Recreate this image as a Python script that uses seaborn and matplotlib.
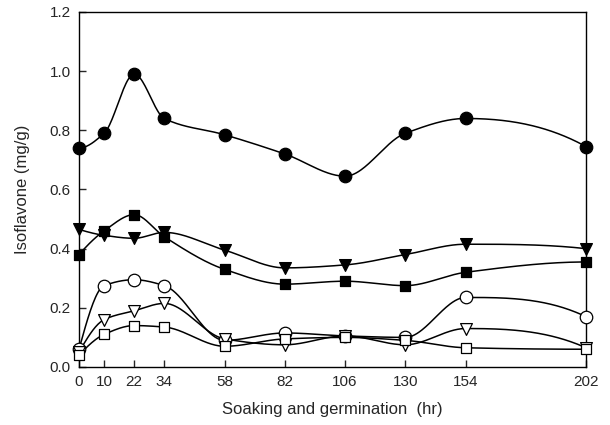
#!/usr/bin/env python
#
# Isoflavone content during soaking and germination

import numpy as np
import pandas as pd
import matplotlib
matplotlib.use("Agg")
import matplotlib.pyplot as plt
import seaborn as sns

hours = [0, 10, 22, 34, 58, 82, 106, 130, 154, 202]

total = [0.74, 0.79, 0.99, 0.84, 0.785, 0.72, 0.645, 0.79, 0.84, 0.745]
tri_filled = [0.465, 0.445, 0.435, 0.455, 0.395, 0.335, 0.345, 0.38, 0.415, 0.40]
sq_filled = [0.38, 0.46, 0.515, 0.44, 0.33, 0.28, 0.29, 0.275, 0.32, 0.355]
circ_open = [0.06, 0.275, 0.295, 0.275, 0.09, 0.115, 0.105, 0.10, 0.235, 0.17]
tri_open = [0.05, 0.16, 0.19, 0.215, 0.095, 0.075, 0.105, 0.075, 0.13, 0.065]
sq_open = [0.04, 0.11, 0.14, 0.135, 0.07, 0.095, 0.10, 0.09, 0.065, 0.06]

yticks = [0.0, 0.2, 0.4, 0.6, 0.8, 1.0, 1.2]


def smooth_curve(x, y, n=400):
    """Monotone cubic (pchip-like) curve through the points, for drawing only."""
    x = np.asarray(x, float)
    y = np.asarray(y, float)
    h = np.diff(x)
    delta = np.diff(y) / h
    k = len(x)
    m = np.zeros(k)
    for i in range(1, k - 1):
        if delta[i - 1] * delta[i] <= 0:
            m[i] = 0.0
        else:
            w1 = 2 * h[i] + h[i - 1]
            w2 = h[i] + 2 * h[i - 1]
            m[i] = (w1 + w2) / (w1 / delta[i - 1] + w2 / delta[i])

    def end_slope(h0, h1, d0, d1):
        d = ((2 * h0 + h1) * d0 - h0 * d1) / (h0 + h1)
        if np.sign(d) != np.sign(d0):
            d = 0.0
        elif np.sign(d0) != np.sign(d1) and abs(d) > abs(3 * d0):
            d = 3 * d0
        return d

    m[0] = end_slope(h[0], h[1], delta[0], delta[1])
    m[-1] = end_slope(h[-1], h[-2], delta[-1], delta[-2])

    xs = np.linspace(x[0], x[-1], n)
    idx = np.clip(np.searchsorted(x, xs) - 1, 0, k - 2)
    t = (xs - x[idx]) / h[idx]
    h00 = 2 * t ** 3 - 3 * t ** 2 + 1
    h10 = t ** 3 - 2 * t ** 2 + t
    h01 = -2 * t ** 3 + 3 * t ** 2
    h11 = t ** 3 - t ** 2
    ys = (h00 * y[idx] + h10 * h[idx] * m[idx]
          + h01 * y[idx + 1] + h11 * h[idx] * m[idx + 1])
    return xs, ys


sns.set_style("ticks")
plt.rcParams['font.family'] = ['Liberation Sans', 'DejaVu Sans']

fig = plt.figure(figsize=(6.1, 4.25), dpi=100)
ax = fig.add_axes([0.1295, 0.1365, 0.8312, 0.8353])

series = [
    (total, 'o', 'black', 9),
    (tri_filled, 'v', 'black', 8.5),
    (sq_filled, 's', 'black', 7.5),
    (circ_open, 'o', 'white', 9),
    (tri_open, 'v', 'white', 8.5),
    (sq_open, 's', 'white', 7.5),
]

for vals, mk, fc, ms in series:
    xs, ys = smooth_curve(hours, vals)
    sns.lineplot(x=xs, y=ys, ax=ax, color='black', lw=1.1, sort=False,
                 estimator=None, zorder=2)
for vals, mk, fc, ms in series:
    df = pd.DataFrame({'hr': hours, 'val': vals})
    sns.scatterplot(data=df, x='hr', y='val', ax=ax, marker=mk,
                    s=ms ** 2, color=fc, edgecolor='black', linewidth=0.9,
                    zorder=3, clip_on=False)

ax.set_xlim(0, 202)
ax.set_ylim(0, 1.2)
ax.set_xticks(hours)
ax.set_xticklabels([str(h) for h in hours])
ax.set_yticks(yticks)
ax.set_yticklabels([f"{t:.1f}" for t in yticks])
ax.tick_params(direction='in', length=5, width=1, labelsize=11, pad=6)
for sp in ax.spines.values():
    sp.set_linewidth(1)
    sp.set_color('black')

ax.set_xlabel('Soaking and germination  (hr)', fontsize=12, labelpad=9)
ax.set_ylabel('Isoflavone (mg/g)', fontsize=12, labelpad=14)

plt.savefig('out.png', dpi=100)
